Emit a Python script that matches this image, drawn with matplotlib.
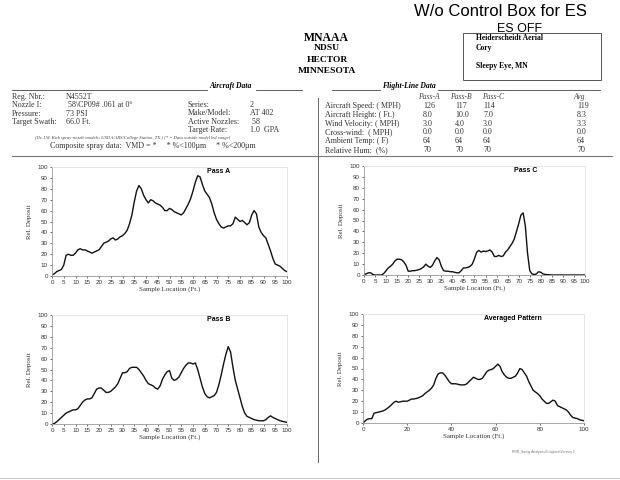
import matplotlib
matplotlib.use('Agg')
import matplotlib.pyplot as plt
from matplotlib.patches import Rectangle

# Sample locations (ft) and relative deposit for each pass
ft = list(range(0, 101))

pass_a = [1, 2, 4, 5, 6, 10, 19, 20, 19, 19, 21, 24, 25, 24, 24, 23, 22, 21, 22, 23,
          24, 27, 30, 31, 32, 34, 35, 33, 34, 36, 37, 39, 42, 48, 56, 68, 78, 83, 80, 74,
          70, 67, 70, 69, 67, 66, 65, 63, 60, 60, 62, 61, 59, 58, 57, 56, 58, 62, 66, 71,
          78, 86, 92, 91, 84, 78, 75, 72, 66, 58, 52, 48, 45, 44, 45, 46, 46, 48, 54, 52,
          50, 51, 49, 47, 49, 56, 60, 57, 45, 40, 37, 35, 29, 23, 16, 11, 10, 9, 7, 5, 4]

pass_b = [0, 0.5, 2, 4, 6, 8, 10, 11, 12, 13, 13, 14, 17, 20, 22, 23, 23, 24, 28, 32,
          33, 33, 31, 29, 29, 30, 32, 34, 37, 42, 47, 47, 48, 51, 52, 52, 52, 50, 47, 44,
          40, 37, 36, 35, 33, 32, 35, 41, 45, 48, 49, 42, 40, 41, 43, 47, 51, 54, 56, 56,
          55, 56, 50, 42, 34, 28, 25, 24, 25, 26, 29, 36, 45, 55, 64, 71, 66, 52, 40, 32,
          24, 16, 10, 7, 6, 5, 4, 3.5, 3, 3, 3, 4, 6, 7.5, 6, 5, 4, 3, 2.5, 2, 1.5]

pass_c = [0.5, 1, 2, 2, 0.5, 0, 0, 0, 0, 1.5, 4, 6.5, 8, 10, 13, 14.5, 14.5, 14, 12, 9,
          3.5, 3.5, 4, 4, 4.5, 5, 6, 7.5, 10, 8, 7, 9, 13, 16, 14, 8, 4, 3.5, 3.5, 3,
          3, 2.5, 2, 2, 4, 6.5, 6.5, 7, 8, 10, 15, 21, 22.5, 21, 22, 21.5, 22, 23, 21, 17,
          17, 18, 17, 17.5, 21, 23, 26, 29, 33, 40, 47, 55, 57, 45, 20, 4, 1, 0.5, 1, 3,
          2.5, 1, 0.5, 0.3, 0.2, 0, 0, 0, 0, 0, 0, 0, 0, 0, 0, 0, 0, 0, 0, 0, 0]

avg = [0, 2, 3.5, 4, 4, 9, 9.5, 10, 10.5, 11, 12, 13.5, 15, 17, 19, 20, 19, 19.5, 20, 20,
       20, 21, 22, 22, 22.5, 23, 24, 25, 27, 28.5, 30, 32, 35, 41, 45, 46, 46, 44, 41, 38,
       36, 36, 36, 35.5, 35, 35, 35, 36, 38, 40, 42, 41, 40, 40, 41, 44, 47, 48.5, 49, 50,
       52, 54, 52, 47, 44, 42, 41, 41, 42, 43, 46, 50, 49, 46, 43, 38, 34, 30, 28.5, 27,
       25, 22, 20, 18, 18, 19.5, 21, 20, 16, 15, 14, 13, 12, 10, 7, 5, 4.5, 4, 3, 2.5, 2]

W, H = 620, 480
fig = plt.figure(figsize=(6.2, 4.8), dpi=100)
fig.patch.set_facecolor('white')

# page overlay in pixel coordinates
bg = fig.add_axes([0, 0, 1, 1])
bg.set_xlim(0, W)
bg.set_ylim(H, 0)
bg.axis('off')

serif = 'Liberation Serif'
sans = 'Liberation Sans'

# handwritten note
bg.text(500, 12, 'W/o Control Box for ES', fontsize=12, family=sans, ha='center', va='center')
bg.text(520, 29, 'ES OFF', fontsize=9, family=sans, ha='center', va='center')

# header
bg.text(326, 38, 'MNAAA', fontsize=8.5, family=serif, weight='bold', ha='center', va='center')
for txt, yy in [('NDSU', 48), ('HECTOR', 60), ('MINNESOTA', 71)]:
    bg.text(327, yy, txt, fontsize=6.8, family=serif, weight='bold', ha='center', va='center')

bg.add_patch(Rectangle((463, 33), 138, 47, fill=False, lw=0.7, ec='#555555'))
bg.text(476, 38, 'Heiderscheidt Aerial', fontsize=5.5, family=serif, weight='bold', va='center')
bg.text(476, 48, 'Cory', fontsize=5.5, family=serif, weight='bold', va='center')
bg.text(476, 66, 'Sleepy Eye, MN', fontsize=5.5, family=serif, weight='bold', va='center')

# aircraft data section
bg.plot([12, 207], [90, 90], color='#444444', lw=0.6)
bg.plot([256, 302], [90, 90], color='#444444', lw=0.6)
bg.text(231, 86, 'Aircraft Data', fontsize=5.5, family=serif, weight='bold', style='italic',
        ha='center', va='center')

left_labels = ['Reg. Nbr.:', 'Nozzle I:', 'Pressure:', 'Target Swath:']
left_values = ['N4552T', ' 58\\CP09# .061 at 0\u00b0', '73 PSI', '66.0 Ft.']
for i, (lab, val) in enumerate(zip(left_labels, left_values)):
    yy = 97 + i * 8.3
    bg.text(12, yy, lab, fontsize=5.8, family=serif, va='center', color='#333333')
    bg.text(66, yy, val, fontsize=5.8, family=serif, va='center', color='#333333')

mid_labels = ['Series:', 'Make/Model:', 'Active Nozzles:', 'Target Rate:']
mid_values = ['2', 'AT 402', ' 58', '1.0  GPA']
for i, (lab, val) in enumerate(zip(mid_labels, mid_values)):
    yy = 105 + i * 8.3
    bg.text(188, yy, lab, fontsize=5.8, family=serif, va='center', color='#333333')
    bg.text(250, yy, val, fontsize=5.8, family=serif, va='center', color='#333333')

bg.text(35, 138, '(Dr. I.W. Kirk spray-nozzle models; USDA/ARS/College Station, TX.) '
        '[* = Data outside model led range]', fontsize=3.3, family=serif, style='italic',
        va='center', color='#444444')
bg.text(50, 146, 'Composite spray data:  VMD = *     * %<100\u00b5m     * %<200\u00b5m',
        fontsize=5.8, family=serif, va='center', color='#333333')

# flight-line data section
bg.plot([332, 380], [90, 90], color='#444444', lw=0.6)
bg.plot([438, 600], [90, 90], color='#444444', lw=0.6)
bg.text(409, 86, 'Flight-Line Data', fontsize=5.5, family=serif, weight='bold', style='italic',
        ha='center', va='center')

heads = ['Pass-A', 'Pass-B', 'Pass-C', 'Avg']
head_x = [418, 450, 482, 573]
for h, xx in zip(heads, head_x):
    bg.text(xx, 97, h, fontsize=5.5, family=serif, style='italic', va='center', color='#444444')

fl_labels = ['Aircraft Speed: ( MPH)', 'Aircraft Height: ( Ft.)', 'Wind Velocity: ( MPH)',
             'Cross-wind:  ( MPH)', 'Ambient Temp: ( F)', 'Relative Hum:  (%)']
speed = ['126', '117', '114', '119']
height = ['8.0', '10.0', '7.0', '8.3']
wind = ['3.0', '4.0', '3.0', '3.3']
cross = ['0.0', '0.0', '0.0', '0.0']
temp = ['64', '64', '64', '64']
hum = ['70', '70', '70', '70']
val_x = [423, 455, 483, 577]
for i, (lab, row) in enumerate(zip(fl_labels, [speed, height, wind, cross, temp, hum])):
    yy = 106 + i * 8.8
    bg.text(325, yy, lab, fontsize=5.8, family=serif, va='center', color='#333333')
    for v, xx in zip(row, val_x):
        bg.text(xx, yy, v, fontsize=5.8, family=serif, va='center', color='#333333')

# separators
bg.plot([12, 612], [156, 156], color='#777777', lw=0.8)
bg.plot([318, 318], [98, 462], color='#666666', lw=0.7)
bg.plot([0, 620], [478, 478], color='#cccccc', lw=0.8)

bg.text(512, 452, 'RRR_Swing Analyses\\Graphics\\Version 1', fontsize=2.4, family=sans,
        va='center', color='#777777')


def px_rect(l, t, r, b):
    return [l / W, 1 - b / H, (r - l) / W, (b - t) / H]


def draw_chart(rect, y, title, title_x, xstep):
    ax = fig.add_axes(px_rect(*rect))
    ax.plot(ft, y, color='#111111', lw=1.0)
    ax.set_xlim(0, 100)
    ax.set_ylim(0, 100)
    ax.set_xticks(range(0, 101, xstep))
    ax.set_yticks(range(0, 101, 10))
    ax.tick_params(labelsize=4.5, length=1.5, width=0.5, pad=1.5, colors='#333333')
    for lab in ax.get_xticklabels() + ax.get_yticklabels():
        lab.set_family(sans)
    for s in ['left', 'bottom']:
        ax.spines[s].set_color('#999999')
        ax.spines[s].set_linewidth(0.6)
    for s in ['top', 'right']:
        ax.spines[s].set_color('#e2e2e2')
        ax.spines[s].set_linewidth(0.6)
    ax.set_xlabel('Sample Location (Ft.)', fontsize=5, family=serif, labelpad=1, color='#333333')
    ax.set_ylabel('Rel. Deposit', fontsize=5, family=serif, labelpad=4, color='#333333')
    ax.text(title_x, 96, title, fontsize=5, family=sans, weight='bold', ha='center', va='center')
    return ax


draw_chart((52, 167, 287, 276), pass_a, 'Pass A', 71, 5)
draw_chart((364, 166, 585, 275), pass_c, 'Pass C', 73, 5)
draw_chart((52, 315, 287, 424), pass_b, 'Pass B', 71, 5)
draw_chart((363, 314, 584, 423), avg, 'Averaged Pattern', 68, 20)

fig.savefig('out.png', dpi=100, facecolor='white')
